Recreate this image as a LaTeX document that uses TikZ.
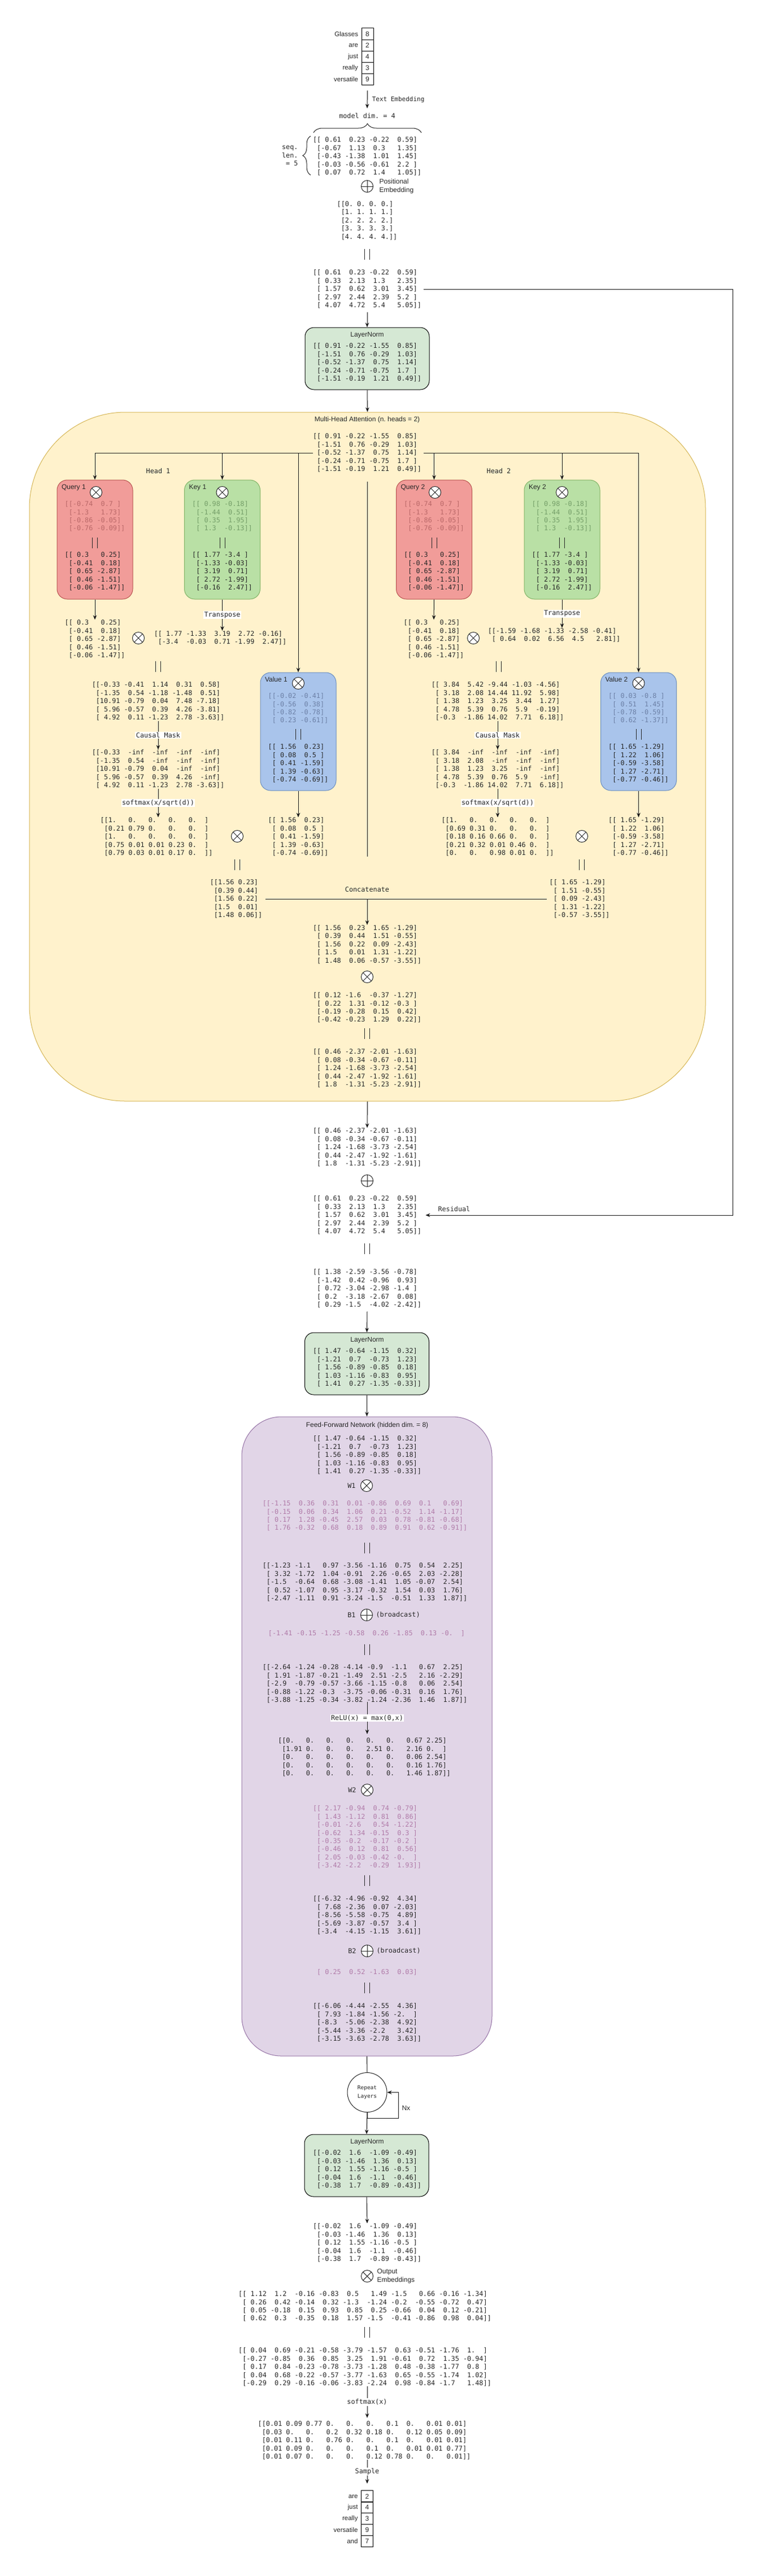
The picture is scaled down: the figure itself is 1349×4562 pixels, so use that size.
\documentclass[tikz,border=0pt]{standalone}
\usepackage{fontspec}
\setmainfont{Liberation Sans}
\newfontfamily\monofont{DejaVu Sans Mono}
\usetikzlibrary{positioning, arrows.meta, decorations.pathreplacing}
\frenchspacing

\definecolor{normfill}{HTML}{D5E8D4}
\definecolor{mhafill}{HTML}{FFF2CC}
\definecolor{mhaline}{HTML}{D6B656}
\definecolor{ffnfill}{HTML}{E1D5E7}
\definecolor{ffnline}{HTML}{9673A6}
\definecolor{qfill}{HTML}{F19C99}
\definecolor{qline}{HTML}{B85450}
\definecolor{kfill}{HTML}{B9E0A5}
\definecolor{kline}{HTML}{82B366}
\definecolor{vfill}{HTML}{A9C4EB}
\definecolor{vline}{HTML}{6C8EBF}
\definecolor{qfade}{RGB}{186,104,104}
\definecolor{kfade}{RGB}{116,158,104}
\definecolor{vfade}{RGB}{108,128,166}
\definecolor{ffade}{RGB}{176,122,168}

\begin{document}
\begin{tikzpicture}[
    x=1pt, y=-1pt, line width=1pt,
    matrixtext/.style={font=\monofont\fontsize{11.8}{14.4}\selectfont, align=left, inner sep=0pt, text=black!85},
    notetext/.style={font=\monofont\fontsize{11.8}{14.4}\selectfont, inner sep=0pt, text=black!85},
    edgelabel/.style={notetext, fill=white, inner sep=1.5pt},
    titletext/.style={font=\fontsize{12}{15}\selectfont, inner sep=0pt, text=black!85},
    token/.style={draw, minimum width=21pt, minimum height=20.2pt, inner sep=0pt, text=black!85, font=\fontsize{12}{14}\selectfont, label={[tokword]left:#1}},
    tokword/.style={font=\fontsize{11.5}{14}\selectfont, inner sep=0pt, xshift=-5pt, text=black!85},
    normbox/.style={draw=black, fill=normfill, rounded corners=16pt, minimum width=220pt, minimum height=110pt},
    mhabox/.style={draw=mhaline, fill=mhafill, rounded corners=170pt, minimum width=1197pt, minimum height=1220pt},
    ffnbox/.style={draw=ffnline, fill=ffnfill, rounded corners=70pt, minimum width=443pt, minimum height=1132pt},
    querybox/.style={draw=qline, fill=qfill, rounded corners=18pt, minimum width=134pt, minimum height=211pt},
    keybox/.style={querybox, draw=kline, fill=kfill},
    valuebox/.style={querybox, draw=vline, fill=vfill, minimum height=209pt},
    timesop/.style={circle, draw=black!85, fill=white, minimum size=21pt, inner sep=0pt,
      path picture={\draw[black!85] (path picture bounding box.north west) -- (path picture bounding box.south east)
        (path picture bounding box.north east) -- (path picture bounding box.south west);}},
    plusop/.style={circle, draw=black!85, fill=white, minimum size=21pt, inner sep=0pt,
      path picture={\draw[black!85] (path picture bounding box.north) -- (path picture bounding box.south)
        (path picture bounding box.west) -- (path picture bounding box.east);}},
    repeatnode/.style={circle, draw=black!85, minimum size=70pt, inner sep=0pt, align=center, text=black!85, font=\monofont\fontsize{9.5}{15}\selectfont},
    arrow/.style={->, >={Stealth[length=8pt, width=6.5pt]}, draw=black!90},
    eqbars/.pic={\draw[black!85] (-4.5,-9.5) -- (-4.5,9.5) (4.5,-9.5) -- (4.5,9.5);}
  ]
    \fill[white] (0,0) rectangle (1349,4562);
    \useasboundingbox (0,0) rectangle (1349,4562);

    % Input tokens
    \node[token=Glasses] (glasses) at (650.5,60) {8};
    \node[token=are] (are) at (650.5,80.2) {2};
    \node[token=just] (just) at (650.5,100.4) {4};
    \node[token=really] (really) at (650.5,120.6) {3};
    \node[token=versatile] (versatile) at (650.5,140.8) {9};

    % Text embedding
    \node[notetext] (dim) at (650,205) {model dim. = 4};
    \draw[arrow] ([yshift=-9pt]versatile.south) -- ([yshift=8pt]dim.north)
      node[notetext, midway, right=8pt, font=\monofont\fontsize{11}{13}\selectfont] {Text Embedding};
    \draw[black!85, decorate, decoration={brace, amplitude=16pt}] (555,235) -- (746,235);
    \draw[black!85, decorate, decoration={brace, amplitude=14pt}] (550,310) -- (550,241);
    \node[notetext, align=right, anchor=east] (seqlen) at (528,276) {seq.\\len.\\= 5};
    \node[matrixtext] (embed) at (650,277) {[[~0.61~~0.23~-0.22~~0.59]\\~[-0.67~~1.13~~0.3~~~1.35]\\~[-0.43~-1.38~~1.01~~1.45]\\~[-0.03~-0.56~-0.61~~2.2~]\\~[~0.07~~0.72~~1.4~~~1.05]]};

    % Positional embedding
    \node[plusop] (posadd) at (650,330) {};
    \node[titletext, align=left, right=10pt of posadd] (poslbl) {Positional\\Embedding};
    \node[matrixtext] (posenc) at (650,390.5) {[[0.~0.~0.~0.]\\~[1.~1.~1.~1.]\\~[2.~2.~2.~2.]\\~[3.~3.~3.~3.]\\~[4.~4.~4.~4.]]};
    \pic at (650,450) {eqbars};
    \node[matrixtext] (xin) at (650,512) {[[~0.61~~0.23~-0.22~~0.59]\\~[~0.33~~2.13~~1.3~~~2.35]\\~[~1.57~~0.62~~3.01~~3.45]\\~[~2.97~~2.44~~2.39~~5.2~]\\~[~4.07~~4.72~~5.4~~~5.05]]};

    % LayerNorm 1
    \node[normbox] (norm1) at (650,635) {};
    \node[titletext] (norm1title) at (650,594) {LayerNorm};
    \node[matrixtext] (norm1mat) at (650,642) {[[~0.91~-0.22~-1.55~~0.85]\\~[-1.51~~0.76~-0.29~~1.03]\\~[-0.52~-1.37~~0.75~~1.14]\\~[-0.24~-0.71~-0.75~~1.7~]\\~[-1.51~-0.19~~1.21~~0.49]]};
    \draw[arrow] ([yshift=-6pt]xin.south) -- (norm1.north);

    % Multi-head attention
    \node[mhabox] (mha) at (650.5,1340) {};
    \draw[arrow] (norm1.south) -- (mha.north);
    \node[titletext] (mhatitle) at (650,743) {Multi-Head Attention (n. heads = 2)};
    \node[matrixtext] (hin) at (650,802) {[[~0.91~-0.22~-1.55~~0.85]\\~[-1.51~~0.76~-0.29~~1.03]\\~[-0.52~-1.37~~0.75~~1.14]\\~[-0.24~-0.71~-0.75~~1.7~]\\~[-1.51~-0.19~~1.21~~0.49]]};
    \node[notetext] (head1) at (280,834) {Head 1};
    \node[notetext] (head2) at (883,834) {Head 2};

    % Head 1 projections
    \node[querybox] (query1) at (168,955.5) {};
    \node[titletext, anchor=west] at ([shift={(8,14)}]query1.north west) {Query 1};
    \node[timesop] (qmul1) at (170,872) {};
    \node[matrixtext, text=qfade] (wq1) at (168,914.5) {[[-0.74~~0.7~]\\~[-1.3~~~1.73]\\~[-0.86~-0.05]\\~[-0.76~-0.09]]};
    \pic at (168,961) {eqbars};
    \node[matrixtext] (q1) at (168,1012) {[[~0.3~~~0.25]\\~[-0.41~~0.18]\\~[~0.65~-2.87]\\~[~0.46~-1.51]\\~[-0.06~-1.47]]};

    \node[keybox] (key1) at (393.5,955.5) {};
    \node[titletext, anchor=west] at ([shift={(8,14)}]key1.north west) {Key 1};
    \node[timesop] (kmul1) at (393.5,872) {};
    \node[matrixtext, text=kfade] (wk1) at (393.5,914.5) {[[~0.98~-0.18]\\~[-1.44~~0.51]\\~[~0.35~~1.95]\\~[~1.3~~-0.13]]};
    \pic at (393.5,961) {eqbars};
    \node[matrixtext] (k1) at (393.5,1012) {[[~1.77~-3.4~]\\~[-1.33~-0.03]\\~[~3.19~~0.71]\\~[~2.72~-1.99]\\~[-0.16~~2.47]]};

    \node[valuebox] (value1) at (528,1295.5) {};
    \node[titletext, anchor=west] at ([shift={(8,13)}]value1.north west) {Value 1};
    \node[timesop] (vmul1) at (528,1210) {};
    \node[matrixtext, text=vfade] (wv1) at (528,1254.5) {[[-0.02~-0.41]\\~[-0.56~~0.38]\\~[-0.82~-0.78]\\~[~0.23~-0.61]]};
    \pic at (528,1300.5) {eqbars};
    \node[matrixtext] (v1) at (528,1352) {[[~1.56~~0.23]\\~[~0.08~~0.5~]\\~[~0.41~-1.59]\\~[~1.39~-0.63]\\~[-0.74~-0.69]]};

    % Head 1 attention
    \node[matrixtext] (q1copy) at (168,1132) {[[~0.3~~~0.25]\\~[-0.41~~0.18]\\~[~0.65~-2.87]\\~[~0.46~-1.51]\\~[-0.06~-1.47]]};
    \node[matrixtext] (kt1) at (390,1130) {[[~1.77~-1.33~~3.19~~2.72~-0.16]\\~[-3.4~~-0.03~~0.71~-1.99~~2.47]]};
    \node[timesop] (qk1) at (245,1130) {};
    \pic at (280,1180) {eqbars};
    \node[matrixtext] (s1) at (280,1242) {[[-0.33~-0.41~~1.14~~0.31~~0.58]\\~[-1.35~~0.54~-1.18~-1.48~~0.51]\\~[10.91~-0.79~~0.04~~7.48~-7.18]\\~[~5.96~-0.57~~0.39~~4.26~-3.81]\\~[~4.92~~0.11~-1.23~~2.78~-3.63]]};
    \node[matrixtext] (m1) at (280,1362) {[[-0.33~~-inf~~-inf~~-inf~~-inf]\\~[-1.35~~0.54~~-inf~~-inf~~-inf]\\~[10.91~-0.79~~0.04~~-inf~~-inf]\\~[~5.96~-0.57~~0.39~~4.26~~-inf]\\~[~4.92~~0.11~-1.23~~2.78~-3.63]]};
    \node[matrixtext] (p1) at (277,1482) {[[1.~~~0.~~~0.~~~0.~~~0.~~]\\~[0.21~0.79~0.~~~0.~~~0.~~]\\~[1.~~~0.~~~0.~~~0.~~~0.~~]\\~[0.75~0.01~0.01~0.23~0.~~]\\~[0.79~0.03~0.01~0.17~0.~~]]};
    \node[matrixtext] (v1copy) at (528,1482) {[[~1.56~~0.23]\\~[~0.08~~0.5~]\\~[~0.41~-1.59]\\~[~1.39~-0.63]\\~[-0.74~-0.69]]};
    \node[timesop] (pv1) at (420,1481) {};
    \pic at (420,1531) {eqbars};
    \node[matrixtext] (o1) at (418,1592) {[[1.56~0.23]\\~[0.39~0.44]\\~[1.56~0.22]\\~[1.5~~0.01]\\~[1.48~0.06]]};

    % Head 2 projections
    \node[querybox] (query2) at (768.5,955.5) {};
    \node[titletext, anchor=west] at ([shift={(8,14)}]query2.north west) {Query 2};
    \node[timesop] (qmul2) at (770,872) {};
    \node[matrixtext, text=qfade] (wq2) at (768.5,914.5) {[[-0.74~~0.7~]\\~[-1.3~~~1.73]\\~[-0.86~-0.05]\\~[-0.76~-0.09]]};
    \pic at (768.5,961) {eqbars};
    \node[matrixtext] (q2) at (768.5,1012) {[[~0.3~~~0.25]\\~[-0.41~~0.18]\\~[~0.65~-2.87]\\~[~0.46~-1.51]\\~[-0.06~-1.47]]};

    \node[keybox] (key2) at (995,955.5) {};
    \node[titletext, anchor=west] at ([shift={(8,14)}]key2.north west) {Key 2};
    \node[timesop] (kmul2) at (995,872) {};
    \node[matrixtext, text=kfade] (wk2) at (995,914.5) {[[~0.98~-0.18]\\~[-1.44~~0.51]\\~[~0.35~~1.95]\\~[~1.3~~-0.13]]};
    \pic at (995,961) {eqbars};
    \node[matrixtext] (k2) at (995,1012) {[[~1.77~-3.4~]\\~[-1.33~-0.03]\\~[~3.19~~0.71]\\~[~2.72~-1.99]\\~[-0.16~~2.47]]};

    \node[valuebox] (value2) at (1130.5,1295.5) {};
    \node[titletext, anchor=west] at ([shift={(8,13)}]value2.north west) {Value 2};
    \node[timesop] (vmul2) at (1130.5,1210) {};
    \node[matrixtext, text=vfade] (wv2) at (1130.5,1254.5) {[[~0.03~-0.8~]\\~[~0.51~~1.45]\\~[-0.78~-0.59]\\~[~0.62~-1.37]]};
    \pic at (1130.5,1300.5) {eqbars};
    \node[matrixtext] (v2) at (1130.5,1352) {[[~1.65~-1.29]\\~[~1.22~~1.06]\\~[-0.59~-3.58]\\~[~1.27~-2.71]\\~[-0.77~-0.46]]};

    % Head 2 attention
    \node[matrixtext] (q2copy) at (768,1132) {[[~0.3~~~0.25]\\~[-0.41~~0.18]\\~[~0.65~-2.87]\\~[~0.46~-1.51]\\~[-0.06~-1.47]]};
    \node[matrixtext] (kt2) at (981,1125) {[[-1.59~-1.68~-1.33~-2.58~-0.41]\\~[~0.64~~0.02~~6.56~~4.5~~~2.81]]};
    \node[timesop] (qk2) at (838,1130) {};
    \pic at (883,1180) {eqbars};
    \node[matrixtext] (s2) at (881,1242) {[[~3.84~~5.42~-9.44~-1.03~-4.56]\\~[~3.18~~2.08~14.44~11.92~~5.98]\\~[~1.38~~1.23~~3.25~~3.44~~1.27]\\~[~4.78~~5.39~~0.76~~5.9~~-0.19]\\~[-0.3~~-1.86~14.02~~7.71~~6.18]]};
    \node[matrixtext] (m2) at (881,1362) {[[~3.84~~-inf~~-inf~~-inf~~-inf]\\~[~3.18~~2.08~~-inf~~-inf~~-inf]\\~[~1.38~~1.23~~3.25~~-inf~~-inf]\\~[~4.78~~5.39~~0.76~~5.9~~~-inf]\\~[-0.3~~-1.86~14.02~~7.71~~6.18]]};
    \node[matrixtext] (p2) at (881,1482) {[[1.~~~0.~~~0.~~~0.~~~0.~~]\\~[0.69~0.31~0.~~~0.~~~0.~~]\\~[0.18~0.16~0.66~0.~~~0.~~]\\~[0.21~0.32~0.01~0.46~0.~~]\\~[0.~~~0.~~~0.98~0.01~0.~~]]};
    \node[matrixtext] (v2copy) at (1130.5,1482) {[[~1.65~-1.29]\\~[~1.22~~1.06]\\~[-0.59~-3.58]\\~[~1.27~-2.71]\\~[-0.77~-0.46]]};
    \node[timesop] (pv2) at (1030,1481) {};
    \pic at (1030,1531) {eqbars};
    \node[matrixtext] (o2) at (1026,1592) {[[~1.65~-1.29]\\~[~1.51~-0.55]\\~[~0.09~-2.43]\\~[~1.31~-1.22]\\~[-0.57~-3.55]]};

    % Split arrows
    \draw[arrow] (hin.west) -| (query1.north);
    \draw[arrow] (hin.west) -| (key1.north);
    \draw[arrow] (hin.west) -| (value1.north);
    \draw[arrow] ([xshift=4pt]hin.east) -| (query2.north);
    \draw[arrow] ([xshift=4pt]hin.east) -| (key2.north);
    \draw[arrow] ([xshift=4pt]hin.east) -| (value2.north);
    \coordinate (splitend) at (650,1517);
    \draw[black!90] ([yshift=-16pt]hin.south) -- (splitend);

    % Head arrows
    \draw[arrow] (query1.south) -- (q1copy.north);
    \draw[arrow] (key1.south) -- (key1.south |- kt1.north) node[edgelabel, midway] {Transpose};
    \draw[arrow] (s1.south) -- (m1.north) node[edgelabel, midway] {Causal Mask};
    \draw[arrow] (m1.south) -- (m1.south |- p1.north) node[edgelabel, midway] {softmax(x/sqrt(d))};
    \draw[arrow] (value1.south) -- (v1copy.north);
    \draw[arrow] (query2.south) -- (q2copy.north);
    \draw[arrow] (key2.south) -- (key2.south |- kt2.north) node[edgelabel, midway] {Transpose};
    \draw[arrow] (s2.south) -- (m2.north) node[edgelabel, midway] {Causal Mask};
    \draw[arrow] (m2.south) -- (p2.north) node[edgelabel, midway] {softmax(x/sqrt(d))};
    \draw[arrow] (value2.south) -- (v2copy.north);

    % Concatenate
    \coordinate (catjoin) at (650,1592);
    \draw[black!90] ([xshift=5pt]o1.east) -- ([xshift=-4pt]o2.west);
    \node[notetext] (catlbl) at (650,1575) {Concatenate};
    \node[matrixtext] (cat) at (650,1672.5) {[[~1.56~~0.23~~1.65~-1.29]\\~[~0.39~~0.44~~1.51~-0.55]\\~[~1.56~~0.22~~0.09~-2.43]\\~[~1.5~~~0.01~~1.31~-1.22]\\~[~1.48~~0.06~-0.57~-3.55]]};
    \draw[arrow] (catjoin) -- (cat.north);
    \node[timesop] (catmul) at (650,1730) {};
    \node[matrixtext] (wo) at (650,1784.5) {[[~0.12~-1.6~~-0.37~-1.27]\\~[~0.22~~1.31~-0.12~-0.3~]\\~[-0.19~-0.28~~0.15~~0.42]\\~[-0.42~-0.23~~1.29~~0.22]]};
    \pic at (650,1830.5) {eqbars};
    \node[matrixtext] (mhaout) at (650,1892) {[[~0.46~-2.37~-2.01~-1.63]\\~[~0.08~-0.34~-0.67~-0.11]\\~[~1.24~-1.68~-3.73~-2.54]\\~[~0.44~-2.47~-1.92~-1.61]\\~[~1.8~~-1.31~-5.23~-2.91]]};

    % Residual
    \node[matrixtext] (mhacopy) at (650,2032) {[[~0.46~-2.37~-2.01~-1.63]\\~[~0.08~-0.34~-0.67~-0.11]\\~[~1.24~-1.68~-3.73~-2.54]\\~[~0.44~-2.47~-1.92~-1.61]\\~[~1.8~~-1.31~-5.23~-2.91]]};
    \draw[arrow] (mha.south) -- (mhacopy.north);
    \node[plusop] (resadd) at (650,2091) {};
    \node[matrixtext] (res) at (650,2152) {[[~0.61~~0.23~-0.22~~0.59]\\~[~0.33~~2.13~~1.3~~~2.35]\\~[~1.57~~0.62~~3.01~~3.45]\\~[~2.97~~2.44~~2.39~~5.2~]\\~[~4.07~~4.72~~5.4~~~5.05]]};
    \draw[arrow] ([xshift=4pt]xin.east) -- ++(547,0) |- ([xshift=7pt]res.east);
    \node[notetext, anchor=west] (reslbl) at (775,2141) {Residual};
    \pic at (650,2211.5) {eqbars};
    \node[matrixtext] (hsum) at (650,2282) {[[~1.38~-2.59~-3.56~-0.78]\\~[-1.42~~0.42~-0.96~~0.93]\\~[~0.72~-3.04~-2.98~-1.4~]\\~[~0.2~~-3.18~-2.67~~0.08]\\~[~0.29~-1.5~~-4.02~-2.42]]};

    % LayerNorm 2
    \node[normbox] (norm2) at (649.5,2415) {};
    \node[titletext] (norm2title) at (650,2374) {LayerNorm};
    \node[matrixtext] (norm2mat) at (650,2422) {[[~1.47~-0.64~-1.15~~0.32]\\~[-1.21~~0.7~~-0.73~~1.23]\\~[~1.56~-0.89~-0.85~~0.18]\\~[~1.03~-1.16~-0.83~~0.95]\\~[~1.41~~0.27~-1.35~-0.33]]};
    \draw[arrow] ([yshift=-6pt]hsum.south) -- (norm2.north);

    % Feed-forward network
    \node[ffnbox] (ffn) at (649.5,3075) {};
    \draw[arrow] (norm2.south) -- (ffn.north);
    \node[titletext] (ffntitle) at (650,2524) {Feed-Forward Network (hidden dim. = 8)};
    \node[matrixtext] (ffnin) at (650,2577) {[[~1.47~-0.64~-1.15~~0.32]\\~[-1.21~~0.7~~-0.73~~1.23]\\~[~1.56~-0.89~-0.85~~0.18]\\~[~1.03~-1.16~-0.83~~0.95]\\~[~1.41~~0.27~-1.35~-0.33]]};
    \node[timesop] (w1mul) at (649,2631) {};
    \node[notetext, left=8pt of w1mul] {W1};
    \node[matrixtext, text=ffade] (w1) at (646,2684.5) {[[-1.15~~0.36~~0.31~~0.01~-0.86~~0.69~~0.1~~~0.69]\\~[-0.15~~0.06~~0.34~~1.06~~0.21~-0.52~~1.14~-1.17]\\~[~0.17~~1.28~-0.45~~2.57~~0.03~~0.78~-0.81~-0.68]\\~[~1.76~-0.32~~0.68~~0.18~~0.89~~0.91~~0.62~-0.91]]};
    \pic at (650,2741) {eqbars};
    \node[matrixtext] (h1) at (646,2802) {[[-1.23~-1.1~~~0.97~-3.56~-1.16~~0.75~~0.54~~2.25]\\~[~3.32~-1.72~~1.04~-0.91~~2.26~-0.65~~2.03~-2.28]\\~[-1.5~~-0.64~~0.68~-3.08~-1.41~~1.05~-0.07~~2.54]\\~[~0.52~-1.07~~0.95~-3.17~-0.32~~1.54~~0.03~~1.76]\\~[-2.47~-1.11~~0.91~-3.24~-1.5~~-0.51~~1.33~~1.87]]};
    \node[plusop] (b1add) at (649,2860) {};
    \node[notetext, left=8pt of b1add] {B1};
    \node[notetext, right=5pt of b1add] {(broadcast)};
    \node[matrixtext, text=ffade] (b1) at (649,2893) {[-1.41~-0.15~-1.25~-0.58~~0.26~-1.85~~0.13~-0.~~]};
    \pic at (650,2921) {eqbars};
    \node[matrixtext] (h1b) at (646,2982) {[[-2.64~-1.24~-0.28~-4.14~-0.9~~-1.1~~~0.67~~2.25]\\~[~1.91~-1.87~-0.21~-1.49~~2.51~-2.5~~~2.16~-2.29]\\~[-2.9~~-0.79~-0.57~-3.66~-1.15~-0.8~~~0.06~~2.54]\\~[-0.88~-1.22~-0.3~~-3.75~-0.06~-0.31~~0.16~~1.76]\\~[-3.88~-1.25~-0.34~-3.82~-1.24~-2.36~~1.46~~1.87]]};
    \node[matrixtext] (relu) at (645,3112) {[[0.~~~0.~~~0.~~~0.~~~0.~~~0.~~~0.67~2.25]\\~[1.91~0.~~~0.~~~0.~~~2.51~0.~~~2.16~0.~~]\\~[0.~~~0.~~~0.~~~0.~~~0.~~~0.~~~0.06~2.54]\\~[0.~~~0.~~~0.~~~0.~~~0.~~~0.~~~0.16~1.76]\\~[0.~~~0.~~~0.~~~0.~~~0.~~~0.~~~1.46~1.87]]};
    \draw[arrow] (650,3014) -- (650,3071) node[edgelabel, midway] {ReLU(x) = max(0,x)};
    \node[timesop] (w2mul) at (650,3170) {};
    \node[notetext, left=8pt of w2mul] {W2};
    \node[matrixtext, text=ffade] (w2) at (650,3253.5) {[[~2.17~-0.94~~0.74~-0.79]\\~[~1.43~-1.12~~0.81~~0.86]\\~[-0.01~-2.6~~~0.54~-1.22]\\~[-0.62~~1.34~-0.15~~0.3~]\\~[-0.35~-0.2~~-0.17~-0.2~]\\~[-0.46~~0.12~~0.81~~0.56]\\~[~2.05~-0.03~-0.42~-0.~~]\\~[-3.42~-2.2~~-0.29~~1.93]]};
    \pic at (650,3330.5) {eqbars};
    \node[matrixtext] (h2) at (650,3392) {[[-6.32~-4.96~-0.92~~4.34]\\~[~7.68~-2.36~~0.07~-2.03]\\~[-8.56~-5.58~-0.75~~4.89]\\~[-5.69~-3.87~-0.57~~3.4~]\\~[-3.4~~-4.15~-1.15~~3.61]]};
    \node[plusop] (b2add) at (650,3455) {};
    \node[notetext, left=8pt of b2add] {B2};
    \node[notetext, right=5pt of b2add] {(broadcast)};
    \node[matrixtext, text=ffade] (b2) at (650,3493) {[~0.25~~0.52~-1.63~~0.03]};
    \pic at (650,3520.5) {eqbars};
    \node[matrixtext] (ffnout) at (650,3582) {[[-6.06~-4.44~-2.55~~4.36]\\~[~7.93~-1.84~-1.56~-2.~~]\\~[-8.3~~-5.06~-2.38~~4.92]\\~[-5.44~-3.36~-2.2~~~3.42]\\~[-3.15~-3.63~-2.78~~3.63]]};

    % Repeat layers
    \node[repeatnode] (repeat) at (650,3705.5) {Repeat\\Layers};
    \draw[black!90] (ffn.south) -- (repeat.north);
    \draw[arrow] (repeat.south) -- ++(0,10) -- ++(55,0) |- (repeat.east);
    \node[titletext, anchor=west] (nx) at (711,3733) {Nx};

    % LayerNorm 3
    \node[normbox] (norm3) at (649,3835) {};
    \node[titletext] (norm3title) at (650,3794) {LayerNorm};
    \node[matrixtext] (norm3mat) at (650,3842) {[[-0.02~~1.6~~-1.09~-0.49]\\~[-0.03~-1.46~~1.36~~0.13]\\~[~0.12~~1.55~-1.16~-0.5~]\\~[-0.04~~1.6~~-1.1~~-0.46]\\~[-0.38~~1.7~~-0.89~-0.43]]};
    \draw[arrow] (repeat.south) -- (norm3.north);

    % Output
    \node[matrixtext] (final) at (650,3972) {[[-0.02~~1.6~~-1.09~-0.49]\\~[-0.03~-1.46~~1.36~~0.13]\\~[~0.12~~1.55~-1.16~-0.5~]\\~[-0.04~~1.6~~-1.1~~-0.46]\\~[-0.38~~1.7~~-0.89~-0.43]]};
    \draw[arrow] (norm3.south) -- (final.north);
    \node[timesop] (outmul) at (650,4031) {};
    \node[titletext, align=left, right=6pt of outmul] (outlbl) {Output\\Embeddings};
    \node[matrixtext] (wout) at (646,4084.5) {[[~1.12~~1.2~~-0.16~-0.83~~0.5~~~1.49~-1.5~~~0.66~-0.16~-1.34]\\~[~0.26~~0.42~-0.14~~0.32~-1.3~~-1.24~-0.2~~-0.55~-0.72~~0.47]\\~[~0.05~-0.18~~0.15~~0.93~~0.85~~0.25~-0.66~~0.04~~0.12~-0.21]\\~[~0.62~~0.3~~-0.35~~0.18~~1.57~-1.5~~-0.41~-0.86~~0.98~~0.04]]};
    \pic at (650,4130.5) {eqbars};
    \node[matrixtext] (logits) at (646,4192) {[[~0.04~~0.69~-0.21~-0.58~-3.79~-1.57~~0.63~-0.51~-1.76~~1.~~]\\~[-0.27~-0.85~~0.36~~0.85~~3.25~~1.91~-0.61~~0.72~~1.35~-0.94]\\~[~0.17~~0.84~-0.23~-0.78~-3.73~-1.28~~0.48~-0.38~-1.77~~0.8~]\\~[~0.04~~0.68~-0.22~-0.57~-3.77~-1.63~~0.65~-0.55~-1.74~~1.02]\\~[-0.29~~0.29~-0.16~-0.06~-3.83~-2.24~~0.98~-0.84~-1.7~~~1.48]]};
    \node[matrixtext] (probs) at (645,4322) {[[0.01~0.09~0.77~0.~~~0.~~~0.~~~0.1~~0.~~~0.01~0.01]\\~[0.03~0.~~~0.~~~0.2~~0.32~0.18~0.~~~0.12~0.05~0.09]\\~[0.01~0.11~0.~~~0.76~0.~~~0.~~~0.1~~0.~~~0.01~0.01]\\~[0.01~0.09~0.~~~0.~~~0.~~~0.1~~0.~~~0.01~0.01~0.77]\\~[0.01~0.07~0.~~~0.~~~0.~~~0.12~0.78~0.~~~0.~~~0.01]]};
    \draw[arrow] (650,4226) -- (650,4282) node[edgelabel, midway] {softmax(x)};

    % Output tokens
    \node[token=are] (outare) at (650,4421) {2};
    \node[token=just] (outjust) at (650,4440.8) {4};
    \node[token=really] (outreally) at (650,4460.6) {3};
    \node[token=versatile] (outversatile) at (650,4480.4) {9};
    \node[token=and] (outand) at (650,4500.2) {7};
    \draw[arrow] (650,4356) -- ([yshift=12pt]outare.north) node[edgelabel, midway] {Sample};
\end{tikzpicture}
\end{document}
